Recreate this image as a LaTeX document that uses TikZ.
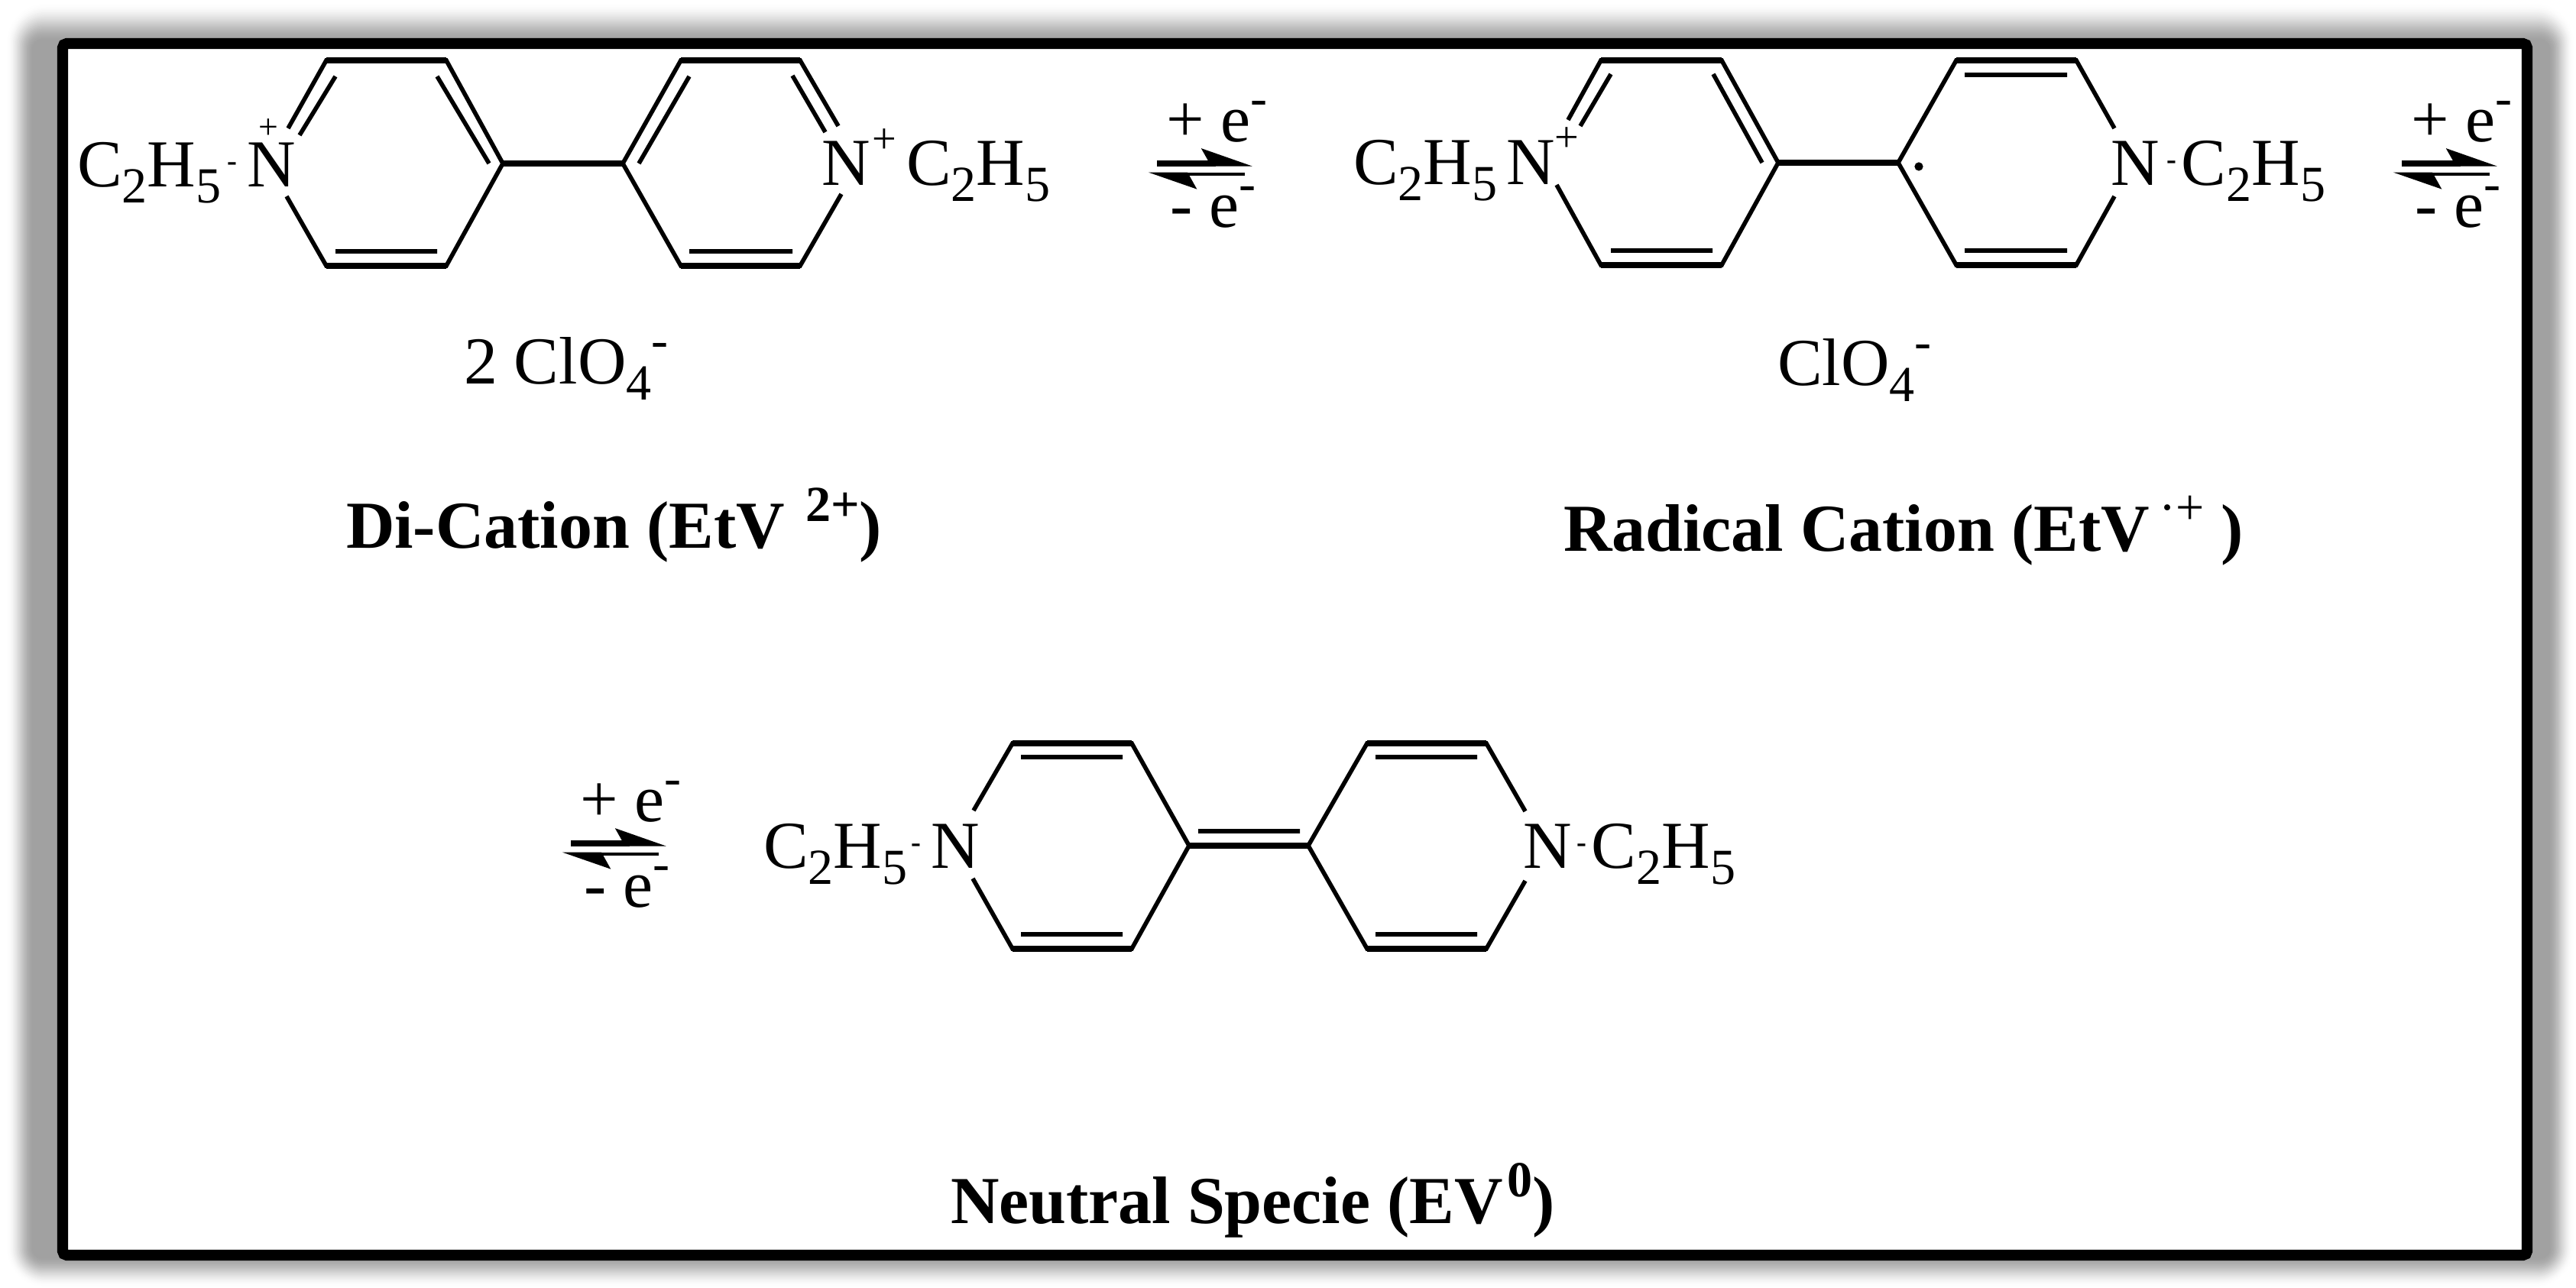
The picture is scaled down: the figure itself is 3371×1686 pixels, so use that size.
\documentclass[tikz,border=0pt]{standalone}
\usepackage{fontspec}
\setmainfont{Liberation Serif}
\usetikzlibrary{arrows.meta}

\newcommand{\chemlo}[1]{\raisebox{-5.7pt}{\fontsize{18.8}{20}\selectfont #1}}
\newcommand{\chemhi}[1]{\raisebox{10pt}{\fontsize{18.8}{20}\selectfont #1}}
\newcommand{\chemdash}{\raisebox{6pt}{\fontsize{11}{12}\selectfont\bfseries -}}
\newcommand{\ethyl}{C\chemlo{2}H\chemlo{5}}

% the two half arrows with their + e- and - e- labels
\newcommand{\redox}[3]{
	\coordinate (#1a) at (#2,#3+1);
	\coordinate (#1b) at (#2+125,#3+1);
	\coordinate (#1c) at (#2+115,#3+15);
	\coordinate (#1d) at (#2-11,#3+15);
	\draw[halfup] (#1a) -- (#1b);
	\draw[halfdown] (#1c) -- (#1d);
	\node [chem] at (#2+12,#3-27) (#1p) {+ e\chemhi{-}};
	\node [chem] at (#2+17,#3+85) (#1m) {- e\chemhi{-}};
}

\tikzset{
	chem/.style={anchor=base west,inner sep=0pt,outer sep=0pt,font=\fontsize{25}{30}\selectfont},
	title/.style={chem,font=\fontsize{25}{30}\selectfont\bfseries},
	charge/.style={chem,anchor=base,font=\fontsize{16}{18}\selectfont},
	bond/.style={line width=1.6pt,line cap=butt,line join=miter},
	flatbond/.style={line width=2.2pt,line cap=butt},
	halfup/.style={line width=2pt,-{Stealth[length=16pt,width=11pt,inset=3pt,harpoon]}},
	halfdown/.style={line width=1.3pt,-{Stealth[length=16pt,width=11pt,inset=3pt,harpoon]}},
	radical/.style={circle,fill,inner sep=0pt,minimum size=3.2pt},
}

\begin{document}
\begin{tikzpicture}[x=0.01cm,y=-0.01cm]
	\useasboundingbox (0,0) rectangle (3371,1686);

	% The shadow, white to grey
	\foreach \i in {0,...,24} {
		\pgfmathsetmacro{\t}{\i/24}
		\pgfmathsetmacro{\dark}{37*\t*\t*(3-2*\t)}
		\pgfmathsetmacro{\rad}{12*(1-\t)+3}
		\fill[black!\dark,rounded corners=\rad pt] (8+36*\t,3+52*\t) rectangle (3369-34*\t,1686-41*\t);
	}

	% The frame
	\draw[line width=4pt,fill=white,rounded corners=1.5pt] (82,57) rectangle (3307,1643);

	% Di-cation, left ring
	\coordinate (a1) at (377,168);
	\coordinate (a2) at (427,79);
	\coordinate (a3) at (584,79);
	\coordinate (a4) at (658,214);
	\coordinate (a5) at (584,348);
	\coordinate (a6) at (427,348);
	\coordinate (a7) at (375,257);
	\coordinate (a8) at (392,177);
	\coordinate (a9) at (439,100);
	\coordinate (a10) at (572,100);
	\coordinate (a11) at (640,214);
	\coordinate (a12) at (439,329);
	\coordinate (a13) at (572,329);

	% Di-cation, right ring
	\coordinate (b1) at (1097,165);
	\coordinate (b2) at (1047,79);
	\coordinate (b3) at (891,79);
	\coordinate (b4) at (815,214);
	\coordinate (b5) at (891,348);
	\coordinate (b6) at (1047,348);
	\coordinate (b7) at (1101,254);
	\coordinate (b8) at (836,214);
	\coordinate (b9) at (902,100);
	\coordinate (b10) at (1037,99);
	\coordinate (b11) at (1080,173);
	\coordinate (b12) at (902,329);
	\coordinate (b13) at (1037,329);

	% Radical cation, left ring
	\coordinate (c1) at (2052,157);
	\coordinate (c2) at (2095,79);
	\coordinate (c3) at (2253,79);
	\coordinate (c4) at (2327,213);
	\coordinate (c5) at (2253,347);
	\coordinate (c6) at (2095,347);
	\coordinate (c7) at (2037,242);
	\coordinate (c8) at (2068,165);
	\coordinate (c9) at (2108,97);
	\coordinate (c10) at (2242,97);
	\coordinate (c11) at (2306,213);
	\coordinate (c12) at (2108,328);
	\coordinate (c13) at (2241,328);

	% Radical cation, right ring
	\coordinate (d1) at (2767,168);
	\coordinate (d2) at (2717,79);
	\coordinate (d3) at (2560,79);
	\coordinate (d4) at (2484,213);
	\coordinate (d5) at (2560,347);
	\coordinate (d6) at (2717,347);
	\coordinate (d7) at (2767,257);
	\coordinate (d8) at (2571,98);
	\coordinate (d9) at (2705,98);
	\coordinate (d10) at (2571,328);
	\coordinate (d11) at (2705,328);

	% Neutral, left ring
	\coordinate (e1) at (1274,1061);
	\coordinate (e2) at (1325,973);
	\coordinate (e3) at (1481,973);
	\coordinate (e4) at (1556,1107);
	\coordinate (e5) at (1481,1242);
	\coordinate (e6) at (1325,1242);
	\coordinate (e7) at (1273,1150);
	\coordinate (e8) at (1336,991);
	\coordinate (e9) at (1469,991);
	\coordinate (e10) at (1336,1223);
	\coordinate (e11) at (1469,1223);

	% Neutral, right ring
	\coordinate (f1) at (1996,1062);
	\coordinate (f2) at (1945,973);
	\coordinate (f3) at (1789,973);
	\coordinate (f4) at (1712,1107);
	\coordinate (f5) at (1789,1242);
	\coordinate (f6) at (1945,1242);
	\coordinate (f7) at (1996,1153);
	\coordinate (f8) at (1800,991);
	\coordinate (f9) at (1933,991);
	\coordinate (f10) at (1800,1223);
	\coordinate (f11) at (1933,1223);
	\coordinate (g1) at (1568,1088);
	\coordinate (g2) at (1701,1088);

	% Ring edges
	\foreach \r in {a,b,c,d,e,f} {
		\draw[bond] (\r1) -- (\r2) -- (\r3) -- (\r4) -- (\r5) -- (\r6) -- (\r7);
		\draw[flatbond] (\r2) -- (\r3);
		\draw[flatbond] (\r5) -- (\r6);
	}

	% Second lines of the double bonds
	\path[draw,bond]
	(a8) -- (a9)
	(a10) -- (a11)
	(a12) -- (a13)
	(b8) -- (b9)
	(b10) -- (b11)
	(b12) -- (b13)
	(c8) -- (c9)
	(c10) -- (c11)
	(c12) -- (c13)
	(d8) -- (d9)
	(d10) -- (d11)
	(e8) -- (e9)
	(e10) -- (e11)
	(f8) -- (f9)
	(f10) -- (f11)
	(g1) -- (g2);

	% Links between the rings
	\path[draw,flatbond]
	(a4) -- (b4)
	(c4) -- (d4)
	(e4) -- (f4);

	% Di-cation labels
	\node [chem] at (101,245) (ethyl1) {\ethyl\kern2.3pt\chemdash};
	\node [chem] at (323,245) (nitro1) {N};
	\node [charge,font=\fontsize{13}{14}\selectfont] at (351,182) (plus1) {+};
	\node [chem] at (1075,243) (nitro2) {N};
	\node [charge] at (1157,201) (plus2) {+};
	\node [chem] at (1186,243) (ethyl2) {\ethyl};
	\node [chem] at (607,503) (salt1) {2 ClO\chemlo{4}\chemhi{-}};
	\node [title] at (453,718) (name1) {Di-Cation (EtV \kern1.5pt\chemhi{2+})};

	% Radical cation labels
	\node [chem] at (1771,242) (ethyl3) {\ethyl};
	\node [chem] at (1971,242) (nitro3) {N};
	\node [charge] at (2050,199) (plus3) {+};
	\node [radical] at (2511,218) (dot1) {};
	\node [chem] at (2762,243) (nitro4) {N};
	\node [chem] at (2835,243) (ethyl4) {\chemdash\kern2pt\ethyl};
	\node [chem] at (2326,505) (salt2) {ClO\chemlo{4}\chemhi{-}};
	\node [title] at (2046,722) (name2) {Radical Cation (EtV\kern3.5pt\chemhi{\mdseries·+} )};

	% Neutral labels
	\node [chem] at (999,1137) (ethyl5) {\ethyl\kern1.5pt\chemdash};
	\node [chem] at (1218,1137) (nitro5) {N};
	\node [chem] at (1993,1137) (nitro6) {N};
	\node [chem] at (2063,1137) (ethyl6) {\chemdash\kern2pt\ethyl};
	\node [title] at (1244,1602) (name3) {Neutral Specie (EV\kern1.5pt\chemhi{0})};

	% Equilibrium arrows
	\redox{r}{1514}{213}
	\redox{s}{3143}{213}
	\redox{t}{747}{1103}

\end{tikzpicture}
\end{document}
